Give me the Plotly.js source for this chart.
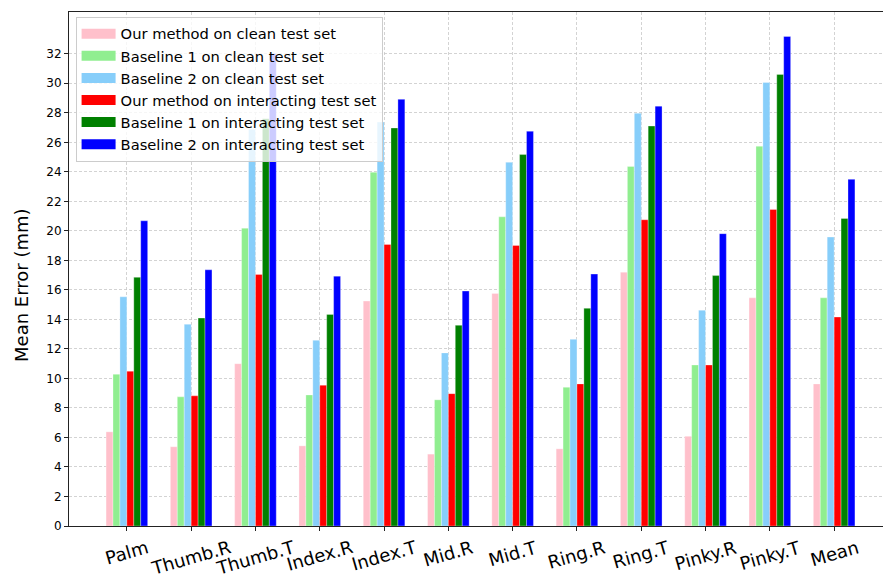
<!DOCTYPE html>
<html>
<head>
<meta charset="utf-8">
<script src="https://cdn.plot.ly/plotly-3.0.1.min.js"></script>
<style>
html,body{margin:0;padding:0;overflow:hidden;background:#fff;width:883px;height:582px;}
#chart{width:900px;height:582px;}
</style>
</head>
<body>
<div id="chart"></div>
<script>
var categories = ['Palm','Thumb.R','Thumb.T','Index.R','Index.T','Mid.R','Mid.T','Ring.R','Ring.T','Pinky.R','Pinky.T','Mean'];

var ourClean = [6.38, 5.37, 11.0, 5.43, 15.24, 4.87, 15.76, 5.23, 17.2, 6.08, 15.46, 9.63];
var b1Clean  = [10.28, 8.75, 20.18, 8.88, 23.97, 8.55, 20.95, 9.4, 24.36, 10.91, 25.73, 15.46];
var b2Clean  = [15.53, 13.67, 26.88, 12.58, 27.37, 11.73, 24.65, 12.65, 27.97, 14.62, 30.05, 19.58];
var ourInter = [10.49, 8.82, 17.05, 9.54, 19.08, 8.97, 19.01, 9.63, 20.75, 10.91, 21.45, 14.16];
var b1Inter  = [16.85, 14.09, 27.6, 14.34, 26.97, 13.6, 25.17, 14.75, 27.1, 16.97, 30.6, 20.84];
var b2Inter  = [20.68, 17.36, 32.0, 16.93, 28.91, 15.92, 26.75, 17.07, 28.45, 19.81, 33.17, 23.49];

var yTickVals = [0, 2, 4, 6, 8, 10, 12, 14, 16, 18, 20, 22, 24, 26, 28, 30, 32];

var seriesNames = [
  'Our method on clean test set',
  'Baseline 1 on clean test set',
  'Baseline 2 on clean test set',
  'Our method on interacting test set',
  'Baseline 1 on interacting test set',
  'Baseline 2 on interacting test set'
];
var seriesValues = [ourClean, b1Clean, b2Clean, ourInter, b1Inter, b2Inter];
var seriesColors = ['#FFC0CB', '#90EE90', '#87CEFA', '#FF0000', '#008000', '#0000FF'];

var font = '"DejaVu Sans", Verdana, sans-serif';
var traces = [];
seriesValues.forEach(function(vals, i){
  traces.push({
    type: 'bar', x: categories, y: vals, name: seriesNames[i],
    marker: {color: seriesColors[i], line: {color: 'rgba(255,255,255,0.6)', width: 0.5}},
    showlegend: false, hoverinfo: 'y'
  });
});
// legend swatches (wide rectangles like the reference)
seriesValues.forEach(function(vals, i){
  traces.push({
    type: 'scatter', x: [null], y: [null], mode: 'lines', name: seriesNames[i],
    line: {color: seriesColors[i], width: 11}, hoverinfo: 'skip', showlegend: true
  });
});

var annotations = categories.map(function(c){
  return {x: c, xref: 'x', y: 0, yref: 'paper', yanchor: 'top', xanchor: 'center',
    yshift: -8, textangle: -16, showarrow: false, text: c,
    font: {family: font, size: 18, color: '#000'}};
});
annotations.push({
  text: 'Mean Error (mm)', textangle: -90, showarrow: false,
  xref: 'paper', x: 0, xanchor: 'center', xshift: -47,
  yref: 'paper', y: 0.467, yanchor: 'middle',
  font: {family: font, size: 18, color: '#000'}
});

var layout = {
  width: 900, height: 582,
  margin: {l: 69, r: 8, t: 12, b: 56},
  paper_bgcolor: '#fff', plot_bgcolor: '#fff',
  barmode: 'group', bargap: 0.353, bargroupgap: 0,
  font: {family: font, color: '#000'},
  xaxis: {
    type: 'category', range: [-0.9, 11.9],
    showticklabels: false, ticks: 'outside', ticklen: 4, tickcolor: '#222',
    showgrid: true, gridcolor: '#c8c8c8', griddash: '3px,2px', gridwidth: 0.8,
    showline: true, linecolor: '#222', linewidth: 1, mirror: true, zeroline: false,
    fixedrange: true
  },
  yaxis: {
    range: [0, 34.83], tickmode: 'array', tickvals: yTickVals,
    ticks: 'outside', ticklen: 4, tickcolor: '#222',
    tickfont: {family: font, size: 12, color: '#000'},
    showgrid: true, gridcolor: '#c8c8c8', griddash: '3px,2px', gridwidth: 0.8,
    showline: true, linecolor: '#222', linewidth: 1, mirror: true, zeroline: false,
    fixedrange: true
  },
  legend: {
    x: 0.008, y: 0.991, xanchor: 'left', yanchor: 'top',
    bgcolor: 'rgba(255,255,255,0.8)', bordercolor: '#cccccc', borderwidth: 1,
    font: {family: font, size: 14.7, color: '#000'}, itemwidth: 34, traceorder: 'normal'
  },
  annotations: annotations,
  showlegend: true
};

Plotly.newPlot('chart', traces, layout, {displayModeBar: false, staticPlot: true});
</script>
</body>
</html>
